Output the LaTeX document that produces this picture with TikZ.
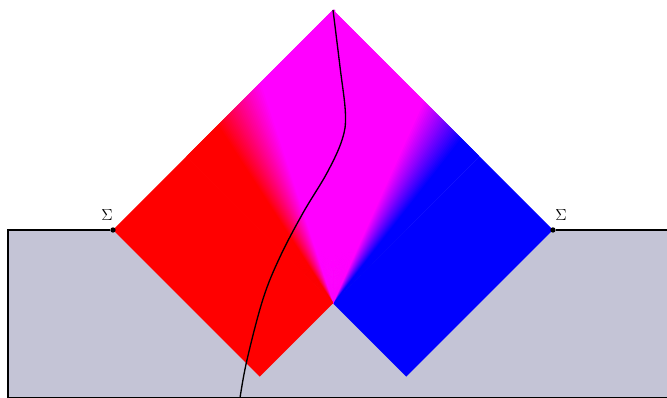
\documentclass[tikz,border=0pt]{standalone}
\usepackage{tikz,xcolor}
\usetikzlibrary{positioning}
\definecolor{bulkgray}{RGB}{196,196,214}
\definecolor{wedgered}{RGB}{255,0,0}
\definecolor{wedgeblue}{RGB}{0,0,255}
\definecolor{wedgemag}{RGB}{255,0,255}

\begin{document}
\begin{tikzpicture}[x=55pt, y=55pt,
  dot/.style={circle, fill=black, inner sep=0pt, minimum size=4pt},
  sigmalabel/.style={inner sep=0pt, font=\fontsize{13}{15}\selectfont},
  edge/.style={line width=0.9pt}]
  \useasboundingbox (-1.541,-2.291) rectangle (7.555,3.136);
  \coordinate (cornerl) at (-1.432,0);
  \coordinate (cornerbl) at (-1.432,-2.291);
  \coordinate (cornerbr) at (7.555,-2.291);
  \coordinate (cornerr) at (7.555,0);
  \coordinate (top) at (3,3);
  \coordinate (bot) at (3,-1);

  % region below Sigma
  \fill[bulkgray] (cornerbl) rectangle (cornerr);

  % past and future patches
  \fill[wedgered] (0,0) -- (2,-2) -- (bot) -- (1,1) -- cycle;
  \fill[wedgeblue] (bot) -- (4,-2) -- (6,0) -- (5,1) -- cycle;
  \begin{scope}
    \clip (bot) -- (5,1) -- (top) -- cycle;
    \foreach \a in {45,45.5,...,90}{
      \pgfmathsetmacro\p{min(100,max(0,(\a-52)*100/14))}
      \fill[wedgemag!\p!wedgeblue] (bot) -- +(\a-0.3:5) -- +(\a+0.8:5) -- cycle;}
  \end{scope}
  \begin{scope}
    \clip (bot) -- (3.03,-0.97) -- (3.03,3) -- (top) -- (1,1) -- cycle;
    \foreach \a in {89,89.5,...,135}{
      \pgfmathsetmacro\p{min(100,max(0,(123-\a)*100/15))}
      \fill[wedgemag!\p!wedgered] (bot) -- +(\a-0.3:5) -- +(\a+0.8:5) -- cycle;}
  \end{scope}

  \node[dot] (sl) at (0,0) {};
  \node[dot] (sr) at (6,0) {};
  \node[sigmalabel, above=4.5pt of sl, xshift=-4.5pt] (sigl) {$\Sigma$};
  \node[sigmalabel, above=4.5pt of sr, xshift=6pt] (sigr) {$\Sigma$};

  \draw[edge] (cornerbl) -- (cornerl) -- (sl);
  \draw[edge] (sr) -- (cornerr);
  \draw[edge] (cornerbl) -- (cornerbr);

  % observer worldline
  \draw[line width=1pt] plot[smooth, tension=0.6] coordinates {(3,3) (3.096,2.223) (3.17,1.58) (3.123,1.227) (2.918,0.777) (2.591,0.232) (2.277,-0.368) (2.046,-0.941) (1.827,-1.773) (1.732,-2.291)};
\end{tikzpicture}
\end{document}
